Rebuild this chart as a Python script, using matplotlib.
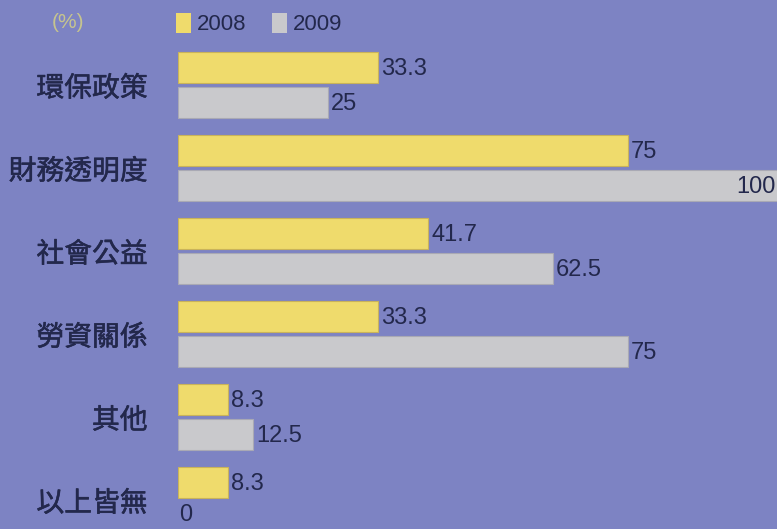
import matplotlib
matplotlib.use("Agg")
import matplotlib.pyplot as plt
import matplotlib.patheffects as pe
from matplotlib.patches import Rectangle
import numpy as np

categories = ["環保政策", "財務透明度", "社會公益", "勞資關係", "其他", "以上皆無"]
values_2008 = [33.3, 75, 41.7, 33.3, 8.3, 8.3]
values_2009 = [25, 100, 62.5, 75, 12.5, 0]
labels_2008 = ["33.3", "75", "41.7", "33.3", "8.3", "8.3"]
labels_2009 = ["25", "100", "62.5", "75", "12.5", "0"]
series_names = ["2008", "2009"]
unit_label = "(%)"

BG = "#7d83c3"
YELLOW = "#efdb6c"
GRAY = "#c9c9cc"
TXT = "#23284c"

W, H = 777, 529
fig = plt.figure(figsize=(W / 100, H / 100), dpi=100, facecolor=BG)

left_px, top_px = 178, 43
ax = fig.add_axes([left_px / W, 0, (W - left_px) / W, (H - top_px) / H])
ax.set_facecolor(BG)
ax.patch.set_alpha(0)

y = np.arange(len(categories))
h = 0.37
off = 0.21
lw08 = [0.8 if v > 0 else 0 for v in values_2008]
lw09 = [0.8 if v > 0 else 0 for v in values_2009]
ax.barh(y - off, values_2008, height=h, color=YELLOW, edgecolor="#c9b35a", linewidth=lw08)
ax.barh(y + off, values_2009, height=h, color=GRAY, edgecolor="#a9a9b4", linewidth=lw09)

xmax = (W - left_px) / 6.0
ax.set_xlim(0, xmax)
ax.set_ylim((H - 85) / 83.0, -42 / 83.0)

vfont = dict(family=["Liberation Sans", "DejaVu Sans"], fontsize=17, color=TXT, va="center")
for i in range(len(categories)):
    for v, lab, dy in ((values_2008[i], labels_2008[i], -off), (values_2009[i], labels_2009[i], off)):
        if v + 8 > xmax:
            ax.text(xmax - 0.3, i + dy + 0.02, lab, ha="right", **vfont)
        elif v == 0:
            ax.text(0.2, i + dy - 0.03, lab, ha="left", **vfont)
        else:
            ax.text(v + 0.5, i + dy + 0.02, lab, ha="left", **vfont)

ax.set_yticks(y)
ax.set_yticklabels(categories, family=["Noto Sans CJK TC", "DejaVu Sans"], fontsize=20, color=TXT)
for t in ax.get_yticklabels():
    t.set_path_effects([pe.Stroke(linewidth=0.4, foreground=TXT), pe.Normal()])
ax.tick_params(axis="y", length=0, pad=22)
ax.set_xticks([])
for s in ax.spines.values():
    s.set_visible(False)

def fx(px):
    return px / W

def fy(py):
    return 1 - py / H

fig.text(fx(52), fy(23), unit_label, family=["Liberation Sans", "DejaVu Sans"], fontsize=15,
         color="#c6c48e", va="center", ha="left")
colors = [YELLOW, GRAY]
lx = [176, 272]
for name, c, x0 in zip(series_names, colors, lx):
    fig.patches.append(Rectangle((fx(x0), fy(33)), 15 / W, 20 / H, transform=fig.transFigure,
                                 facecolor=c, edgecolor="none"))
    fig.text(fx(x0 + 21), fy(24), name, family=["Liberation Sans", "DejaVu Sans"], fontsize=16,
             color=TXT, va="center", ha="left")

fig.savefig("out.png", dpi=100, facecolor=BG)
